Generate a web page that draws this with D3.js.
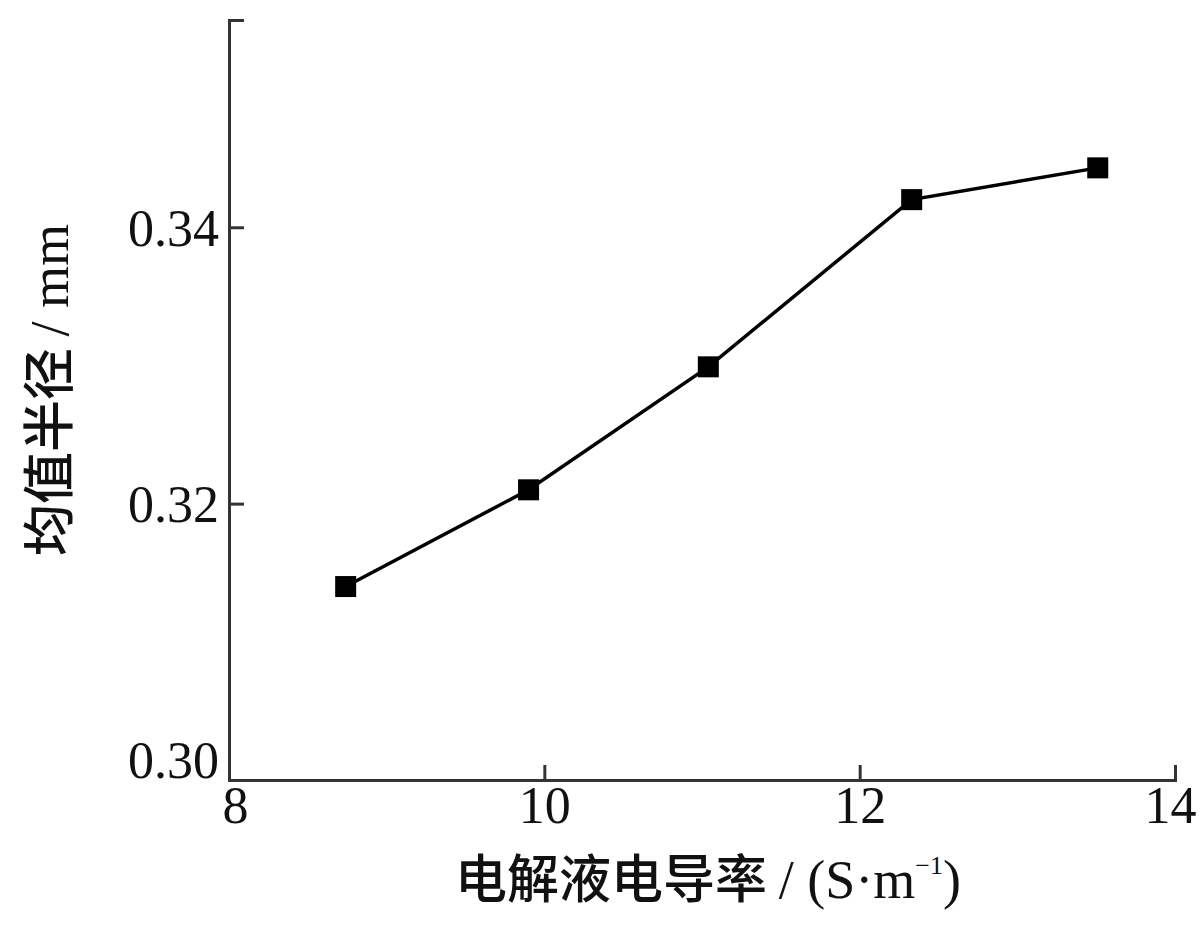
<!DOCTYPE html>
<html lang="zh">
<head>
<meta charset="utf-8">
<title>均值半径与电解液电导率</title>
<script src="https://d3js.org/d3.v7.min.js"></script>
<style>
  body { margin: 0; background: #fff; }
  .tick text { font-family: "Liberation Serif", "DejaVu Serif", serif; font-size: 52px; fill: #111; }
  .axis path, .axis line { stroke: #333; stroke-width: 3px; }
  .title { font-family: "Noto Sans CJK SC", sans-serif; font-size: 52px; font-weight: 500; fill: #111; }
  .title tspan.lat { font-family: "Liberation Serif", serif; font-weight: 400; font-size: 54px; }
  .title tspan.sup { font-size: 26px; }
</style>
</head>
<body>
<div id="chart"></div>
<script>
// data
var conductivity = [8.74, 9.90, 11.04, 12.33, 13.51];   // S/m
var radius = [0.3140, 0.3210, 0.3299, 0.3420, 0.3443];  // mm
var xTicks = [8, 10, 12, 14];
var yTicks = [0.30, 0.32, 0.34];

var w = 1200, h = 938;
var mLeft = 229, mRight = 1175, mTop = 20, mBottom = 780;

var svg = d3.select("#chart").append("svg")
  .attr("width", w).attr("height", h);

var x = d3.scaleLinear().domain([8, 14]).range([mLeft, mRight]);
var y = d3.scaleLinear().domain([0.30, 0.355]).range([mBottom, mTop]);

// x axis, ticks pointing inward
var gx = svg.append("g").attr("class", "axis")
  .attr("transform", "translate(0," + mBottom + ")")
  .call(d3.axisBottom(x).tickValues(xTicks).tickSize(-15).tickSizeOuter(-15).tickFormat(d3.format("d")));
gx.selectAll(".tick text").attr("y", 6).attr("dy", "0.71em")
  .attr("dx", function(d){ return d == 8 ? 6 : (d == 14 ? -5 : 0) });

// y axis
var gy = svg.append("g").attr("class", "axis")
  .attr("transform", "translate(" + mLeft + ",0)")
  .call(d3.axisLeft(y).tickValues(yTicks).tickSize(-15).tickSizeOuter(-15).tickFormat(d3.format(".2f")));
gy.selectAll(".tick text").attr("x", -10)
  .attr("dy", function(d){ return d == 0.30 ? "-0.05em" : "0.35em" });

// line + square markers
var line = d3.line().x(function(d){ return x(d[0]) }).y(function(d){ return y(d[1]) });
var pts = d3.zip(conductivity, radius);

svg.append("path").datum(pts)
  .attr("d", line)
  .attr("fill", "none").attr("stroke", "#000").attr("stroke-width", 3.5);

var s = 21;
svg.selectAll("rect.mk").data(pts).enter().append("rect")
  .attr("class", "mk")
  .attr("x", function(d){ return x(d[0]) - s / 2 })
  .attr("y", function(d){ return y(d[1]) - s / 2 })
  .attr("width", s).attr("height", s)
  .attr("fill", "#000");

// axis titles
var xt = svg.append("text").attr("class", "title")
  .attr("x", 708).attr("y", 898).attr("text-anchor", "middle");
xt.append("tspan").text("电解液电导率 ");
xt.append("tspan").attr("class", "lat").text("/ (S·m");
xt.append("tspan").attr("class", "lat sup").attr("dy", "-24").text("−1");
xt.append("tspan").attr("class", "lat").attr("dy", "24").text(")");

var yt = svg.append("text").attr("class", "title")
  .attr("transform", "translate(68,390) rotate(-90)")
  .attr("text-anchor", "middle");
yt.append("tspan").text("均值半径 ");
yt.append("tspan").attr("class", "lat").text("/ mm");
</script>
</body>
</html>
